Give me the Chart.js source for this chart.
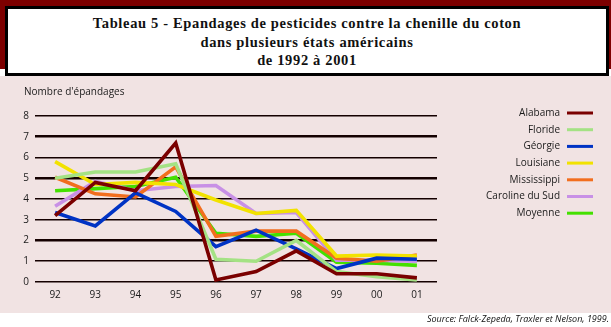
<!DOCTYPE html>
<html>
<head>
<meta charset="utf-8">
<script src="https://cdn.jsdelivr.net/npm/chart.js@4"></script>
<style>
  body { margin: 0; background: #fff; }
  #wrap { position: relative; width: 611px; height: 327px; overflow: hidden; }
  #band { position: absolute; left: 0; top: 0; width: 611px; height: 69px; background: #7d0000; }
  #titlebox {
    position: absolute; left: 5px; top: 6px; width: 598px; height: 59px;
    background: #fff; border: 3px solid #000;
    font-family: "Liberation Serif", serif; font-weight: bold; font-size: 14.5px;
    text-align: center; line-height: 18.5px; padding-top: 5px; box-sizing: content-box;
    letter-spacing: 0.65px; color: #111;
  }
  #plot { position: absolute; left: 0; top: 76px; width: 611px; height: 237px; background: #f1e3e3; }
  #source {
    position: absolute; right: 2px; top: 312px;
    font-family: "Open Sans", sans-serif; font-style: italic; font-size: 9px; color: #111;
  }
</style>
</head>
<body>
<div id="wrap">
  <div id="band"></div>
  <div id="titlebox">Tableau 5 - Epandages de pesticides contre la chenille du coton<br>dans plusieurs états américains<br>de 1992 à 2001</div>
  <div id="plot"><canvas id="chart" width="611" height="237"></canvas></div>
  <div id="source">Source: Falck-Zepeda, Traxler et Nelson, 1999.</div>
</div>
<script>
const years = ['92', '93', '94', '95', '96', '97', '98', '99', '00', '01'];
const alabama = [3.2, 4.8, 4.4, 6.7, 0.1, 0.5, 1.5, 0.4, 0.4, 0.2];
const floride = [5.0, 5.3, 5.3, 5.7, 1.1, 1.0, 2.0, 0.5, 0.25, 0.1];
const georgie = [3.35, 2.7, 4.3, 3.4, 1.7, 2.5, 1.6, 0.65, 1.15, 1.1];
const louisiane = [5.8, 4.7, 4.8, 4.7, 3.95, 3.3, 3.45, 1.25, 1.3, 1.25];
const mississippi = [5.05, 4.25, 4.1, 5.55, 2.2, 2.45, 2.45, 1.15, 1.0, 1.3];
const caroline = [3.65, 4.85, 4.4, 4.6, 4.65, 3.3, 3.35, 1.05, 1.05, 1.0];
const moyenne = [4.4, 4.5, 4.6, 5.05, 2.35, 2.2, 2.35, 0.95, 0.9, 0.8];
const yTicks = [0, 1, 2, 3, 4, 5, 6, 7, 8];
const thickLines = [2, 5, 7];

const series = [
  { label: 'Alabama', data: alabama, color: '#7a0000' },
  { label: 'Floride', data: floride, color: '#a4e284' },
  { label: 'Géorgie', data: georgie, color: '#0033c4' },
  { label: 'Louisiane', data: louisiane, color: '#f2e200' },
  { label: 'Mississippi', data: mississippi, color: '#f26e1e' },
  { label: 'Caroline du Sud', data: caroline, color: '#c890e6' },
  { label: 'Moyenne', data: moyenne, color: '#44e000' }
];

const sans = '"Open Sans", sans-serif';

// y axis title + legend on the right side
const extras = {
  id: 'extras',
  afterDraw(chart) {
    const ctx = chart.ctx;
    ctx.save();
    ctx.fillStyle = '#1a1a1a';
    ctx.font = '10px ' + sans;
    ctx.textAlign = 'left';
    ctx.textBaseline = 'middle';
    ctx.fillText("Nombre d'épandages", 24, 16);

    ctx.textAlign = 'right';
    series.forEach((s, i) => {
      const y = 37 + i * 16.7;
      ctx.fillStyle = '#1a1a1a';
      ctx.fillText(s.label, 560, y);
      ctx.strokeStyle = s.color;
      ctx.lineWidth = 3;
      ctx.beginPath();
      ctx.moveTo(567, y);
      ctx.lineTo(593, y);
      ctx.stroke();
    });
    ctx.restore();
  }
};

new Chart(document.getElementById('chart'), {
  type: 'line',
  data: {
    labels: years,
    datasets: series.map(s => ({
      label: s.label,
      data: s.data,
      borderColor: s.color,
      backgroundColor: s.color,
      borderWidth: 3.6,
      pointRadius: 0,
      tension: 0
    }))
  },
  options: {
    responsive: false,
    animation: false,
    layout: { padding: { left: 0, right: 174, top: 40, bottom: 0 } },
    plugins: { legend: { display: false }, tooltip: { enabled: false } },
    scales: {
      x: {
        offset: true,
        afterFit: s => { s.height = 31; },
        grid: { display: false, drawTicks: false },
        border: { display: false },
        ticks: { padding: 7, color: '#1a1a1a', font: { family: sans, size: 10 } }
      },
      y: {
        min: 0,
        max: 8,
        afterFit: s => { s.width = 35; },
        afterBuildTicks: s => { s.ticks = yTicks.map(v => ({ value: v })); },
        grid: {
          drawTicks: false,
          color: '#140000',
          lineWidth: c => thickLines.includes(c.tick.value) ? 2.6 : 1.6
        },
        border: { display: false },
        ticks: { padding: 6, color: '#1a1a1a', font: { family: sans, size: 10 } }
      }
    }
  },
  plugins: [extras]
});
</script>
</body>
</html>
